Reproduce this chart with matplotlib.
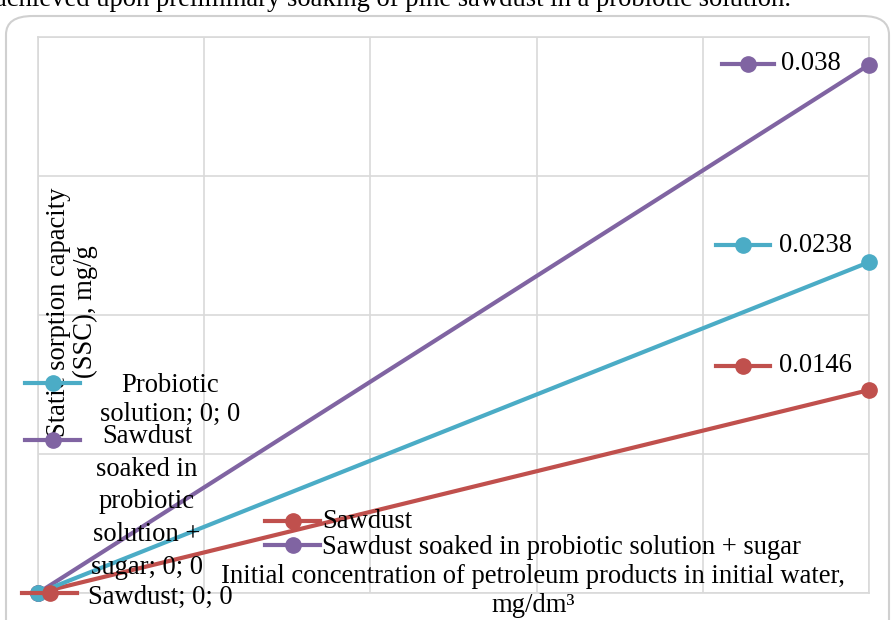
import matplotlib
matplotlib.use("Agg")
import matplotlib.pyplot as plt
from matplotlib.patches import FancyBboxPatch
from matplotlib.lines import Line2D

# ---- data ----
x_conc = [0, 50]
sawdust = [0, 0.0146]
probiotic = [0, 0.0238]
soaked = [0, 0.038]
series_names = ["Sawdust", "Probiotic solution", "Sawdust soaked in probiotic solution + sugar"]
colors = {"Sawdust": "#C0504D", "Probiotic solution": "#4BACC6",
          "Sawdust soaked in probiotic solution + sugar": "#8064A2"}

plt.rcParams['font.family'] = ['Liberation Serif', 'DejaVu Serif']
W, H = 891, 620
fig = plt.figure(figsize=(W / 100, H / 100), dpi=100)

def fx(x):
    return x / W

def fy(y):
    return 1 - y / H

# chart frame
frame = FancyBboxPatch((fx(6), fy(640)), fx(883), (632 - 8) / H,
                       boxstyle="round,pad=0,rounding_size=0.03",
                       transform=fig.transFigure, facecolor="white",
                       edgecolor="#d0d0d0", lw=1.5, zorder=-10)
fig.patches.append(frame)

fs = 19.2
# cut title line at top
fig.text(fx(-5), fy(6), "achieved upon preliminary soaking of pine sawdust in a probiotic solution.",
         fontsize=fs, ha="left", va="baseline", color="black")

ax = fig.add_axes([fx(38), fy(593), fx(869 - 38), (593 - 37) / H])
ax.set_xlim(0, 50)
ax.set_ylim(0, 0.04)
ax.set_xticks([0, 10, 20, 30, 40, 50])
ax.set_yticks([0, 0.01, 0.02, 0.03, 0.04])
ax.grid(True, color="#d9d9d9", lw=1.2)
ax.tick_params(length=0, labelbottom=False, labelleft=False)
for s in ax.spines.values():
    s.set_color("#d9d9d9")
    s.set_linewidth(1.2)
ax.set_facecolor("none")

for name, vals in [("Sawdust", sawdust),
                   ("Sawdust soaked in probiotic solution + sugar", soaked),
                   ("Probiotic solution", probiotic)]:
    ax.plot(x_conc, vals, color=colors[name], lw=3, marker="o", ms=11,
            clip_on=False, zorder=3)

def key(x0, x1, y, c):
    fig.add_artist(Line2D([fx(x0), fx(x1)], [fy(y), fy(y)], color=c, lw=3,
                          transform=fig.transFigure, zorder=5))
    fig.add_artist(Line2D([fx((x0 + x1) / 2)], [fy(y)], color=c, marker="o", ms=11,
                          transform=fig.transFigure, zorder=5))

# end labels
key(722, 774, 64, colors[series_names[2]])
fig.text(fx(781), fy(64), f"{soaked[1]:g}", fontsize=fs, va="center", ha="left")
key(716, 770, 245, colors[series_names[1]])
fig.text(fx(779), fy(245), f"{probiotic[1]:g}", fontsize=fs, va="center", ha="left")
key(716, 770, 366, colors[series_names[0]])
fig.text(fx(779), fy(366), f"{sawdust[1]:g}", fontsize=fs, va="center", ha="left")

# start labels
key(25, 80, 383, colors[series_names[1]])
fig.text(fx(170), fy(400), "Probiotic\nsolution; 0; 0", fontsize=fs, ha="center",
         va="center", linespacing=1.23)
key(25, 80, 440, colors[series_names[2]])
fig.text(fx(147), fy(502), "Sawdust\nsoaked in\nprobiotic\nsolution +\nsugar; 0; 0", fontsize=fs,
         ha="center", va="center", linespacing=1.42)
key(22, 77, 593, colors[series_names[0]])
fig.text(fx(88), fy(597), "Sawdust; 0; 0", fontsize=fs, ha="left", va="center")

# legend
key(265, 320, 521, colors[series_names[0]])
fig.text(fx(322), fy(521), series_names[0], fontsize=fs, ha="left", va="center")
key(265, 320, 545, colors[series_names[2]])
fig.text(fx(322), fy(547), series_names[2], fontsize=fs, ha="left", va="center")

# axis titles
fig.text(fx(533), fy(591), "Initial concentration of petroleum products in initial water,\nmg/dm³",
         fontsize=fs, ha="center", va="center", linespacing=1.18)
fig.text(fx(72), fy(312), "Static sorption capacity\n(SSC), mg/g", fontsize=fs,
         rotation=90, ha="center", va="center", linespacing=1.1)

fig.savefig("out.png", dpi=100)
